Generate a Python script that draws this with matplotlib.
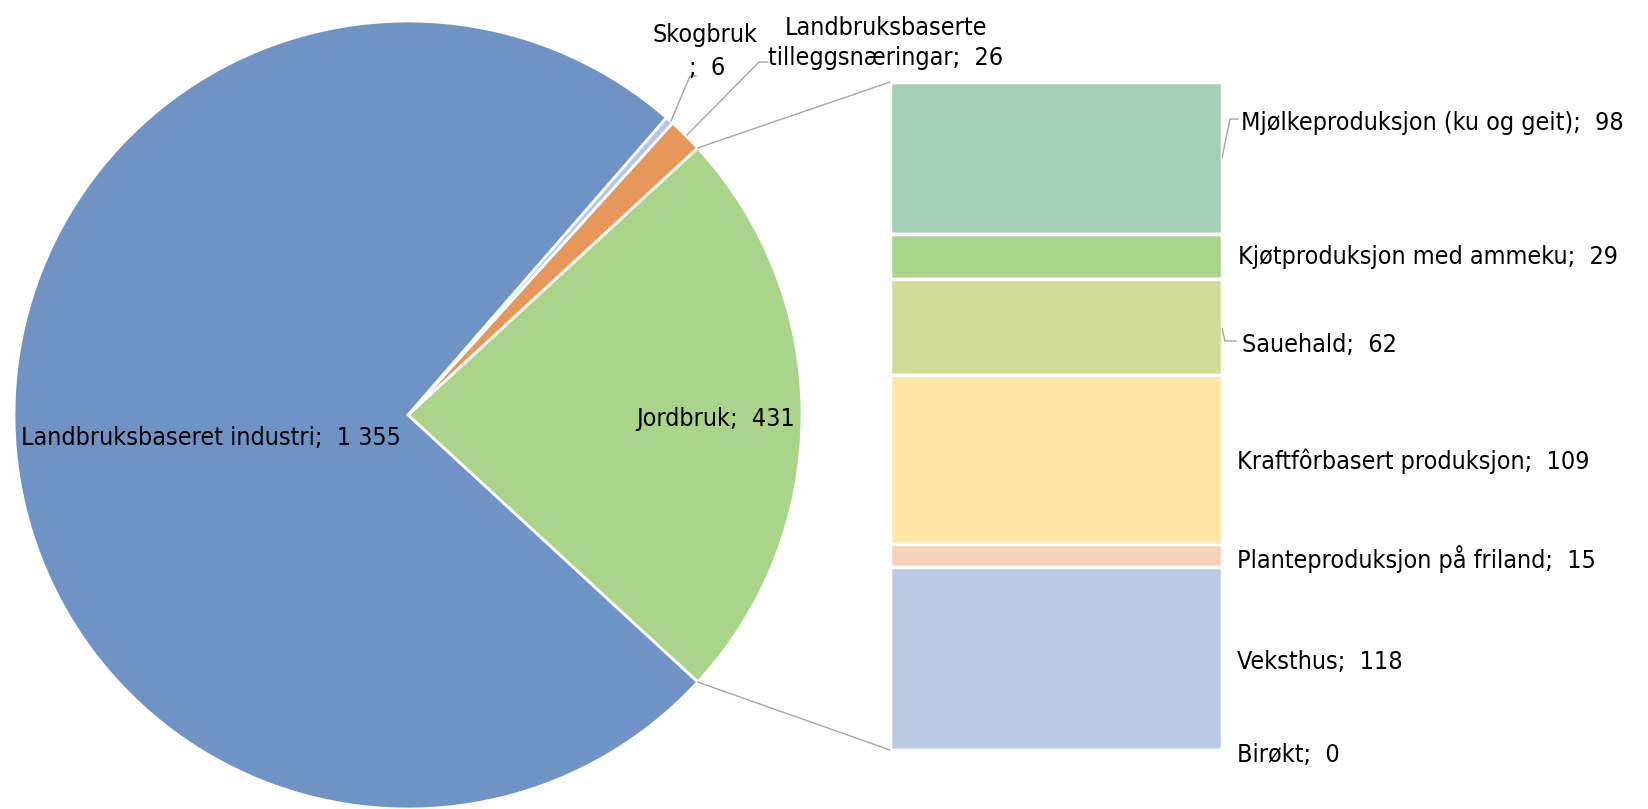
import numpy as np
import matplotlib
matplotlib.use("Agg")
import matplotlib.pyplot as plt
from matplotlib.patches import ConnectionPatch

# ---- data ----
pie_labels = ["Jordbruk", "Landbruksbaserte\ntilleggsnæringar", "Skogbruk", "Landbruksbaseret industri"]
pie_values = [431, 26, 6, 1355]
pie_value_text = ["431", "26", "6", "1 355"]
bar_labels = ["Mjølkeproduksjon (ku og geit)", "Kjøtproduksjon med ammeku", "Sauehald",
              "Kraftfôrbasert produksjon", "Planteproduksjon på friland", "Veksthus", "Birøkt"]
bar_values = [98, 29, 62, 109, 15, 118, 0]

pie_colors = ["#A9D48A", "#E8975A", "#B4C7E7", "#7093C6"]
bar_colors = ["#A5D0B5", "#A9D48A", "#D3DB98", "#FFE5A6", "#F5D3B9", "#BACAE2", "#9DC3E6"]

plt.rcParams['font.family'] = ['DejaVu Sans']
plt.rcParams['font.stretch'] = 'condensed'
FS = 18

W, H = 1648, 809
fig = plt.figure(figsize=(W / 100, H / 100), dpi=100)
ax = fig.add_axes([0, 0, 1, 1])

cx, cy, R = 408, H - 415, 394
total = sum(pie_values)
start = -360 * pie_values[0] / total / 2
wedges, _ = ax.pie(pie_values, colors=pie_colors, center=(cx, cy), radius=R,
                   startangle=start, counterclock=True,
                   wedgeprops=dict(edgecolor="white", linewidth=2))
ax.set_xlim(0, W)
ax.set_ylim(0, H)
ax.set_aspect("equal")
ax.axis("off")

DY = 2
def P(x, y):
    return x, H - y

def T(x, y, s, **kw):
    ax.text(x, H - (y + DY), s, fontsize=FS, va="center", color="black", **kw)

# pie labels
T(21, 436, f"{pie_labels[3]};  {pie_value_text[3]}", ha="left")
T(716, 417, f"{pie_labels[0]};  {pie_value_text[0]}", ha="center")
T(705, 33, pie_labels[2], ha="center")
T(707, 66, f";  {pie_value_text[2]}", ha="center")
T(886, 41, f"{pie_labels[1]};  {pie_value_text[1]}", ha="center", linespacing=1.35)

lc = "#A6A6A6"
# leader lines
ax.plot(*zip(P(671, 121), P(690, 76), P(696, 76)), color=lc, lw=1)
ax.plot(*zip(P(687, 135), P(759, 62), P(768, 62)), color=lc, lw=1)

# bar of pie
bx0, bx1, by0, by1 = 890, 1222, 82, 750
ax2 = fig.add_axes([bx0 / W, 1 - by1 / H, (bx1 - bx0) / W, (by1 - by0) / H])
bottom = 0
for v, c in zip(bar_values, bar_colors):
    ax2.bar(0, v, bottom=bottom, width=1, color=c, edgecolor="white", linewidth=2.5)
    bottom += v
ax2.set_xlim(-0.5, 0.5)
ax2.set_ylim(sum(bar_values), 0)
ax2.axis("off")

# bar labels
bar_label_pos = [(1241, 121), (1238, 255), (1242, 343), (1237, 459), (1237, 557), (1237, 660), (1237, 753)]
for lab, v, (x, y) in zip(bar_labels, bar_values, bar_label_pos):
    T(x, y, f"{lab};  {v}", ha="left")
ax.plot(*zip(P(1222, 158), P(1230, 119), P(1238, 119)), color=lc, lw=1)
ax.plot(*zip(P(1222, 328), P(1225, 341), P(1236, 341)), color=lc, lw=1)

# connectors from Jordbruk wedge to bar
w = wedges[0]
for ang, yb in [(w.theta2, 0), (w.theta1, sum(bar_values))]:
    px = cx + R * np.cos(np.deg2rad(ang))
    py = cy + R * np.sin(np.deg2rad(ang))
    con = ConnectionPatch(xyA=(px, py), coordsA=ax.transData, xyB=(-0.5, yb), coordsB=ax2.transData,
                          color=lc, lw=1)
    fig.add_artist(con)

fig.savefig("out.png", dpi=100)
